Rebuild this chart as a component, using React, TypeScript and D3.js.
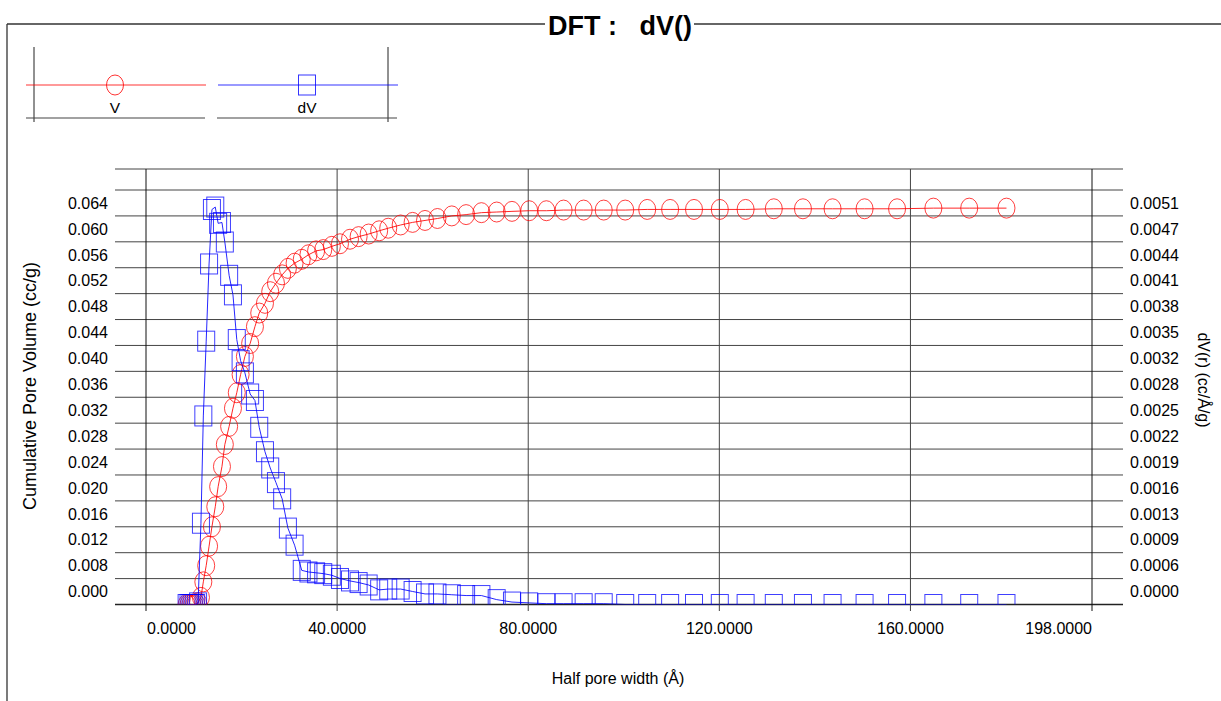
import React from "react";
import * as d3 from "d3";

// half pore width (Å), shared by both series
const poreWidth = [
  8.5, 8.9, 9.3, 9.7, 10.1, 10.5, 10.9,
  11.5, 12.0, 12.6, 13.2, 13.8, 14.5, 15.1, 15.9, 16.5, 17.4,
  18.2, 19.0, 19.8, 20.7, 21.8, 22.8, 23.7, 24.9, 26.0, 27.2,
  28.5, 29.7, 31.1, 32.6, 34.0, 35.6, 37.1, 38.9, 40.6, 42.7,
  44.5, 46.6, 48.8, 50.7, 53.3, 55.8, 58.4, 61.0, 64.0, 67.0,
  70.2, 73.4, 76.6, 80.2, 83.8, 87.4, 91.6, 95.8, 100.3, 104.9,
  109.7, 114.7, 120.1, 125.5, 131.4, 137.5, 143.7, 150.4, 157.2, 164.8,
  172.3, 180.1,
];

// cumulative pore volume V (cc/g)
const cumVolume = [
  0, 0, 0, 0, 0, 0.0001, 0.0003,
  0.0011, 0.0035, 0.006, 0.009, 0.012, 0.0151, 0.0182, 0.0213, 0.0247, 0.0275,
  0.0303, 0.0327, 0.0355, 0.0383, 0.0403, 0.0429, 0.045, 0.0465, 0.0483, 0.0496,
  0.0509, 0.0519, 0.0527, 0.0533, 0.054, 0.0546, 0.0548, 0.0553, 0.0557, 0.0564,
  0.0568, 0.0572, 0.0577, 0.0581, 0.0586, 0.059, 0.0593, 0.0596, 0.06, 0.0602,
  0.0605, 0.0606, 0.0607, 0.0608, 0.0608, 0.0609, 0.0609, 0.0609, 0.0609, 0.061,
  0.061, 0.061, 0.061, 0.061, 0.0611, 0.0611, 0.0611, 0.0611, 0.0611, 0.0612,
  0.0612, 0.0612,
];

// dV(r) (cc/Å/g)
const dVr = [
  0, 0, 0, 0, 0, 0, 0.00002,
  0.001, 0.00232, 0.00324, 0.00419, 0.00486, 0.00489, 0.00469, 0.0047, 0.00446, 0.00405,
  0.00381, 0.00326, 0.003, 0.00285, 0.00259, 0.00251, 0.00218, 0.00188, 0.00168, 0.0015,
  0.0013, 0.00094, 0.00073, 0.00042, 0.0004, 0.00039, 0.00038, 0.00036, 0.00032, 0.00029,
  0.00027, 0.00024, 0.00018, 0.00019, 0.00019, 0.00016, 0.00013, 0.00013, 0.00012, 0.00011,
  0.00011, 0.00006, 0.00003, 0.00002, 0.00001, 0.00001, 0.00001, 0.00001, 0, 0,
  0, 0, 0, 0, 0, 0, 0, 0, 0, 0,
  0, 0,
];

const leftLabels = [
  "0.064", "0.060", "0.056", "0.052", "0.048", "0.044", "0.040", "0.036",
  "0.032", "0.028", "0.024", "0.020", "0.016", "0.012", "0.008", "0.000",
];
const rightLabels = [
  "0.0051", "0.0047", "0.0044", "0.0041", "0.0038", "0.0035", "0.0032", "0.0028",
  "0.0025", "0.0022", "0.0019", "0.0016", "0.0013", "0.0009", "0.0006", "0.0000",
];
const xTicks = [0, 40, 80, 120, 160, 198];

const FONT = "'Liberation Sans', Arial, sans-serif";

const App = () => {
  const width = 1221;
  const height = 701;
  const plotTop = 169;
  const gridLeft = 115;
  const gridRight = 1123;

  const x = d3.scaleLinear().domain([0, 198]).range([146, 1092]);
  const yL = d3.scaleLinear().domain([0, 0.064]).range([604.5, 190]);
  const yR = d3.scaleLinear().domain([0, 0.0051]).range([604.5, 190]);

  const gridVals = d3.range(0, 17).map((i) => i * 0.004);
  const fmt = d3.format(".4f");

  const points = poreWidth.map((w, i) => ({ w, v: cumVolume[i], d: dVr[i] }));

  const lineV = d3.line<any>().x((p) => x(p.w)).y((p) => yL(p.v));
  const lineD = d3.line<any>().x((p) => x(p.w)).y((p) => yR(p.d));

  // label k sits between gridlines (16-k) and (15-k)
  const labelY = (k: number) => (yL(gridVals[16 - k]) + yL(gridVals[15 - k])) / 2;

  return (
    <svg
      width={width}
      height={height}
      style={{ position: "absolute", left: 0, top: 0, background: "#fff" }}
      fontFamily={FONT}
    >
      <defs>
        <clipPath id="plot">
          <rect x={x(0)} y={plotTop} width={x(198) - x(0)} height={yL(0) - plotTop} />
        </clipPath>
      </defs>

      {/* outer frame */}
      <line x1={7} y1={24} x2={545} y2={24} stroke="#333" strokeWidth={1.3} />
      <line x1={694} y1={24} x2={1221} y2={24} stroke="#333" strokeWidth={1.3} />
      <line x1={7} y1={24} x2={7} y2={701} stroke="#333" strokeWidth={1.3} />
      <text
        x={620}
        y={35}
        textAnchor="middle"
        fontSize={27}
        fontWeight="bold"
        style={{ whiteSpace: "pre" }}
      >
        {"DFT :   dV()"}
      </text>

      {/* legend */}
      <g>
        <line x1={34} y1={47} x2={34} y2={122} stroke="#222" />
        <line x1={388} y1={47} x2={388} y2={122} stroke="#222" />
        <line x1={26} y1={118} x2={205} y2={118} stroke="#444" strokeWidth={1.2} />
        <line x1={217} y1={118} x2={397} y2={118} stroke="#444" strokeWidth={1.2} />
        <line x1={26} y1={85} x2={206} y2={85} stroke="red" strokeOpacity={0.8} />
        <ellipse cx={115} cy={85} rx={8.5} ry={10} fill="none" stroke="red" strokeOpacity={0.8} />
        <text x={115} y={113} textAnchor="middle" fontSize={15.5}>V</text>
        <line x1={218} y1={85} x2={398} y2={85} stroke="blue" strokeOpacity={0.8} />
        <rect x={298.5} y={75} width={17} height={20} fill="none" stroke="blue" strokeOpacity={0.8} />
        <text x={307} y={113} textAnchor="middle" fontSize={15.5}>dV</text>
      </g>

      {/* grid */}
      <line x1={gridLeft} y1={plotTop} x2={gridRight} y2={plotTop} stroke="#444" />
      {gridVals.map((v, i) => (
        <line
          key={"h" + i}
          x1={gridLeft}
          x2={gridRight}
          y1={yL(v)}
          y2={yL(v)}
          stroke={i === 0 ? "#222" : "#444"}
          strokeWidth={i === 0 ? 1.5 : 1}
        />
      ))}
      {xTicks.map((t) => (
        <line
          key={"v" + t}
          x1={x(t)}
          x2={x(t)}
          y1={plotTop}
          y2={611}
          stroke={t === 0 || t === 198 ? "#111" : "#444"}
        />
      ))}

      {/* axis labels */}
      {leftLabels.map((l, k) => (
        <text key={"l" + k} x={108} y={labelY(k)} dy="0.36em" textAnchor="end" fontSize={16}>
          {l}
        </text>
      ))}
      {rightLabels.map((l, k) => (
        <text key={"r" + k} x={1130} y={labelY(k)} dy="0.36em" textAnchor="start" fontSize={16}>
          {l}
        </text>
      ))}
      {xTicks.map((t, i) => (
        <text
          key={"x" + t}
          x={i === 0 ? x(t) + 1 : x(t)}
          y={634}
          textAnchor={i === 0 ? "start" : i === xTicks.length - 1 ? "end" : "middle"}
          fontSize={16}
        >
          {fmt(t)}
        </text>
      ))}
      <text
        transform="translate(36,386) rotate(-90)"
        textAnchor="middle"
        fontSize={18}
      >
        Cumulative Pore Volume (cc/g)
      </text>
      <text
        transform="translate(1198,380) rotate(90)"
        textAnchor="middle"
        fontSize={16}
      >
        dV(r) (cc/Å/g)
      </text>
      <text x={618} y={684} textAnchor="middle" fontSize={16}>
        Half pore width (Å)
      </text>

      {/* series */}
      <g clipPath="url(#plot)">
        <path d={lineV(points) || ""} fill="none" stroke="red" strokeOpacity={0.85} />
        {points.map((p, i) => (
          <ellipse
            key={"c" + i}
            cx={x(p.w)}
            cy={yL(p.v)}
            rx={8.5}
            ry={10}
            fill="none"
            stroke="red"
            strokeOpacity={0.75}
          />
        ))}
        <path d={lineD(points) || ""} fill="none" stroke="blue" strokeOpacity={0.85} />
        {points.map((p, i) => (
          <rect
            key={"s" + i}
            x={x(p.w) - 8.5}
            y={yR(p.d) - 10}
            width={17}
            height={20}
            fill="none"
            stroke="blue"
            strokeOpacity={0.75}
          />
        ))}
      </g>
    </svg>
  );
};

export default App;
